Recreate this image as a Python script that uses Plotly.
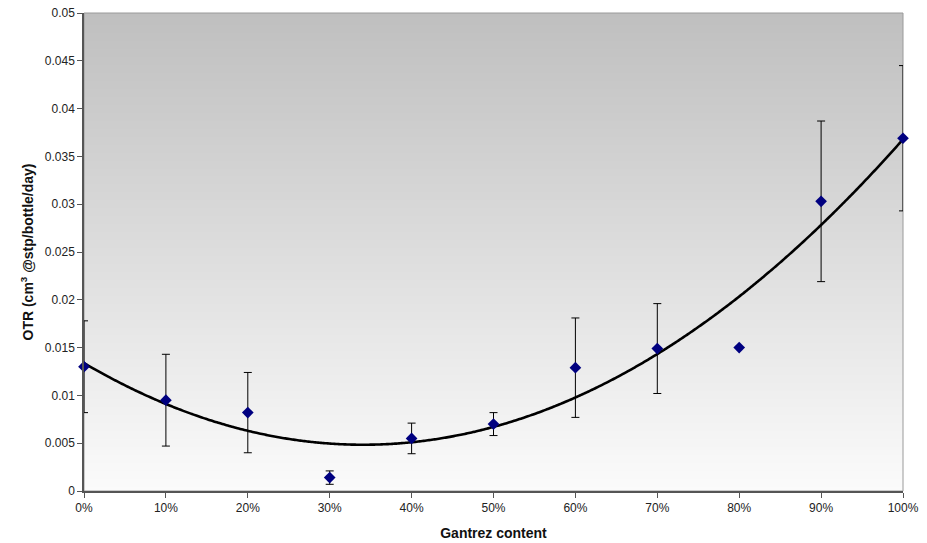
import base64
import struct
import zlib

import numpy as np
import plotly.graph_objects as go

# Data
gantrez = [0.0, 0.1, 0.2, 0.3, 0.4, 0.5, 0.6, 0.7, 0.8, 0.9, 1.0]
otr = [0.0130, 0.0095, 0.0082, 0.0014, 0.0055, 0.0070, 0.0129, 0.0149, 0.0150, 0.0303, 0.0369]
otr_err = [0.0048, 0.0048, 0.0042, 0.0007, 0.0016, 0.0012, 0.0052, 0.0047, 0.0, 0.0084, 0.0076]
y_ticks = [0, 0.005, 0.01, 0.015, 0.02, 0.025, 0.03, 0.035, 0.04, 0.045, 0.05]
y_tick_labels = ["0", "0.005", "0.01", "0.015", "0.02", "0.025", "0.03", "0.035", "0.04", "0.045", "0.05"]
x_ticks = [0.0, 0.1, 0.2, 0.3, 0.4, 0.5, 0.6, 0.7, 0.8, 0.9, 1.0]
x_tick_labels = ["0%", "10%", "20%", "30%", "40%", "50%", "60%", "70%", "80%", "90%", "100%"]

# Polynomial (order 2) trendline fitted to the data
coef = np.polyfit(gantrez, otr, 2)
xs = np.linspace(0, 1, 300)
ys = np.polyval(coef, xs)


def gradient_png(top, bottom, h=478, w=4):
    rows = b""
    for i in range(h):
        t = i / (h - 1)
        g = int(round(top + (bottom - top) * t))
        rows += b"\x00" + bytes([g, g, g]) * w
    def chunk(tag, data):
        c = tag + data
        return struct.pack(">I", len(data)) + c + struct.pack(">I", zlib.crc32(c) & 0xffffffff)
    png = b"\x89PNG\r\n\x1a\n"
    png += chunk(b"IHDR", struct.pack(">IIBBBBB", w, h, 8, 2, 0, 0, 0))
    png += chunk(b"IDAT", zlib.compress(rows, 9))
    png += chunk(b"IEND", b"")
    return "data:image/png;base64," + base64.b64encode(png).decode()


fig = go.Figure()

fig.add_trace(go.Scatter(
    x=xs, y=ys, mode="lines",
    line=dict(color="black", width=2.6, simplify=False, shape="spline"),
    hoverinfo="skip", showlegend=False, cliponaxis=False,
))

fig.add_trace(go.Scatter(
    x=gantrez, y=otr, mode="markers",
    marker=dict(symbol="diamond", color="#000080", size=9),
    error_y=dict(type="data", array=otr_err, visible=True,
                 color="black", thickness=1, width=4),
    showlegend=False, cliponaxis=False,
))

fig.add_layout_image(dict(
    source=gradient_png(191, 251), xref="paper", yref="paper",
    x=0, y=1, sizex=1, sizey=1, sizing="stretch",
    xanchor="left", yanchor="top", layer="below",
))
fig.add_shape(type="rect", xref="paper", yref="paper", x0=0, x1=1, y0=0, y1=1,
              line=dict(color="#9a9a9a", width=1), layer="below")

font_family = "Liberation Sans, Arial, sans-serif"
fig.update_layout(
    width=927, height=543,
    margin=dict(l=84, r=24, t=13, b=52, autoexpand=False),
    paper_bgcolor="white",
    plot_bgcolor="rgba(0,0,0,0)",
    font=dict(family=font_family, size=12, color="#222"),
    showlegend=False,
    xaxis=dict(
        range=[0, 1], tickvals=x_ticks, ticktext=x_tick_labels,
        showgrid=False, zeroline=False, automargin=False,
        showline=True, linecolor="#555", linewidth=1.5,
        ticks="outside", ticklen=5, tickcolor="#555",
        tickfont=dict(size=12, color="#222"),
        title=dict(text="<b>Gantrez content</b>", font=dict(size=14, color="#111"), standoff=14),
    ),
    yaxis=dict(
        range=[0, 0.05], tickvals=y_ticks, ticktext=y_tick_labels,
        showgrid=False, zeroline=False, automargin=False,
        showline=True, linecolor="#555", linewidth=1.5,
        ticks="outside", ticklen=5, tickcolor="#555",
        tickfont=dict(size=12, color="#222"),
        title=dict(text="<b>OTR (cm<sup>3</sup> @stp/bottle/day)</b>", font=dict(size=14, color="#111"), standoff=8),
    ),
)

fig.write_html("out.html")
